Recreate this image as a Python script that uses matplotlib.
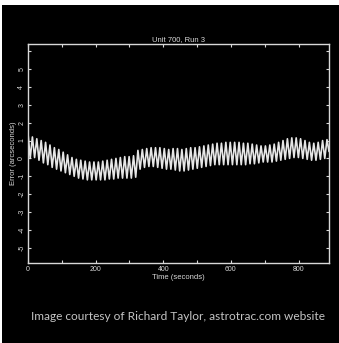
import matplotlib
matplotlib.use("Agg")
import matplotlib.pyplot as plt
import numpy as np

# extrema of the tracking error trace
peak_time_s = [0, 13, 26, 39, 52, 65, 78, 91, 104, 117, 130, 143, 156, 169, 182,
               195, 208, 221, 234, 247, 260, 273, 286, 299, 312, 325, 338, 351,
               364, 377, 390, 403, 416, 429, 442, 455, 468, 481, 494, 507, 520,
               533, 546, 559, 572, 585, 598, 611, 624, 637, 650, 663, 676, 689,
               702, 715, 728, 741, 754, 767, 780, 793, 806, 819, 832, 845, 858,
               871, 884]
peak_err = [1.4, 1.2, 1.1, 1.0, 0.9, 0.75, 0.6, 0.5, 0.35, 0.2, 0.05, -0.05, -0.1,
            -0.15, -0.2, -0.2, -0.2, -0.15, -0.1, -0.05, 0.0, 0.05, 0.1, 0.1, 0.15,
            0.45, 0.5, 0.55, 0.6, 0.6, 0.6, 0.55, 0.5, 0.55, 0.55, 0.5, 0.55, 0.6,
            0.6, 0.65, 0.7, 0.75, 0.8, 0.85, 0.85, 0.9, 0.9, 0.9, 0.9, 0.85, 0.85,
            0.8, 0.75, 0.7, 0.7, 0.75, 0.8, 0.9, 1.0, 1.1, 1.15, 1.15, 1.1, 1.0,
            0.9, 0.85, 0.9, 1.0, 1.05]
trough_time_s = [6.5, 19.5, 32.5, 45.5, 58.5, 71.5, 84.5, 97.5, 110.5, 123.5, 136.5,
                 149.5, 162.5, 175.5, 188.5, 201.5, 214.5, 227.5, 240.5, 253.5,
                 266.5, 279.5, 292.5, 305.5, 318.5, 331.5, 344.5, 357.5, 370.5,
                 383.5, 396.5, 409.5, 422.5, 435.5, 448.5, 461.5, 474.5, 487.5,
                 500.5, 513.5, 526.5, 539.5, 552.5, 565.5, 578.5, 591.5, 604.5,
                 617.5, 630.5, 643.5, 656.5, 669.5, 682.5, 695.5, 708.5, 721.5,
                 734.5, 747.5, 760.5, 773.5, 786.5, 799.5, 812.5, 825.5, 838.5,
                 851.5, 864.5, 877.5, 890]
trough_err = [0.0, 0.05, -0.1, -0.25, -0.35, -0.5, -0.6, -0.7, -0.8, -0.9, -1.0,
              -1.1, -1.15, -1.2, -1.2, -1.2, -1.2, -1.2, -1.15, -1.15, -1.1, -1.1,
              -1.1, -1.1, -1.05, -0.6, -0.5, -0.45, -0.45, -0.5, -0.55, -0.6, -0.6,
              -0.65, -0.7, -0.7, -0.65, -0.6, -0.55, -0.5, -0.45, -0.4, -0.35,
              -0.35, -0.35, -0.35, -0.35, -0.35, -0.35, -0.35, -0.3, -0.3, -0.25,
              -0.2, -0.2, -0.2, -0.15, -0.1, -0.05, 0.0, 0.05, 0.05, 0.0, -0.05,
              -0.1, -0.1, -0.05, 0.0, 0.4]

x_ticks = [0, 100, 200, 300, 400, 500, 600, 700, 800]
x_labels = ["0", "", "200", "", "400", "", "600", "", "800"]
y_ticks = [-5, -4, -3, -2, -1, 0, 1, 2, 3, 4, 5, 6]
y_labels = ["-5", "-4", "-3", "-2", "-1", "0", "1", "2", "3", "4", "5", ""]

t = np.empty(len(peak_time_s) + len(trough_time_s))
e = np.empty_like(t)
t[0::2], e[0::2] = peak_time_s, peak_err
t[1::2], e[1::2] = trough_time_s, trough_err

FG = "#d8d8d8"
plt.rcParams["font.family"] = ["Liberation Sans", "DejaVu Sans"]

fig = plt.figure(figsize=(3.39, 3.43), dpi=100, facecolor="white")
bg = fig.add_axes([0.006, 0, 0.994, 0.985])
bg.set_facecolor("black")
bg.set_xticks([]); bg.set_yticks([])
for s in bg.spines.values():
    s.set_visible(False)

ax = fig.add_axes([0.0826, 0.2332, 0.8879, 0.6385])
ax.set_facecolor("black")
ax.plot(t, e, color="#e6e6e6", lw=1.2)
ax.set_xlim(0, 890)
ax.set_ylim(-5.85, 6.4)
ax.set_xticks(x_ticks)
ax.set_xticklabels(x_labels)
ax.set_yticks(y_ticks)
ax.set_yticklabels(y_labels, rotation=90, va="center")
ax.tick_params(direction="in", length=2.5, width=0.8, colors=FG, labelsize=5,
               top=True, right=True, pad=2)
for s in ax.spines.values():
    s.set_color(FG)
    s.set_linewidth(1.0)
ax.set_title("Unit 700, Run 3", color=FG, fontsize=5.5, pad=2)
ax.set_xlabel("Time (seconds)", color=FG, fontsize=5.5, labelpad=1)
ax.set_ylabel("Error (arcseconds)", color=FG, fontsize=5.5, labelpad=1)

fig.text(0.525, 0.076, "Image courtesy of Richard Taylor, astrotrac.com website",
         color="#c4c4c4", fontsize=8.6, ha="center", va="center",
         family=["Lato", "DejaVu Sans"])

fig.savefig("out.png", dpi=100, facecolor="white")
